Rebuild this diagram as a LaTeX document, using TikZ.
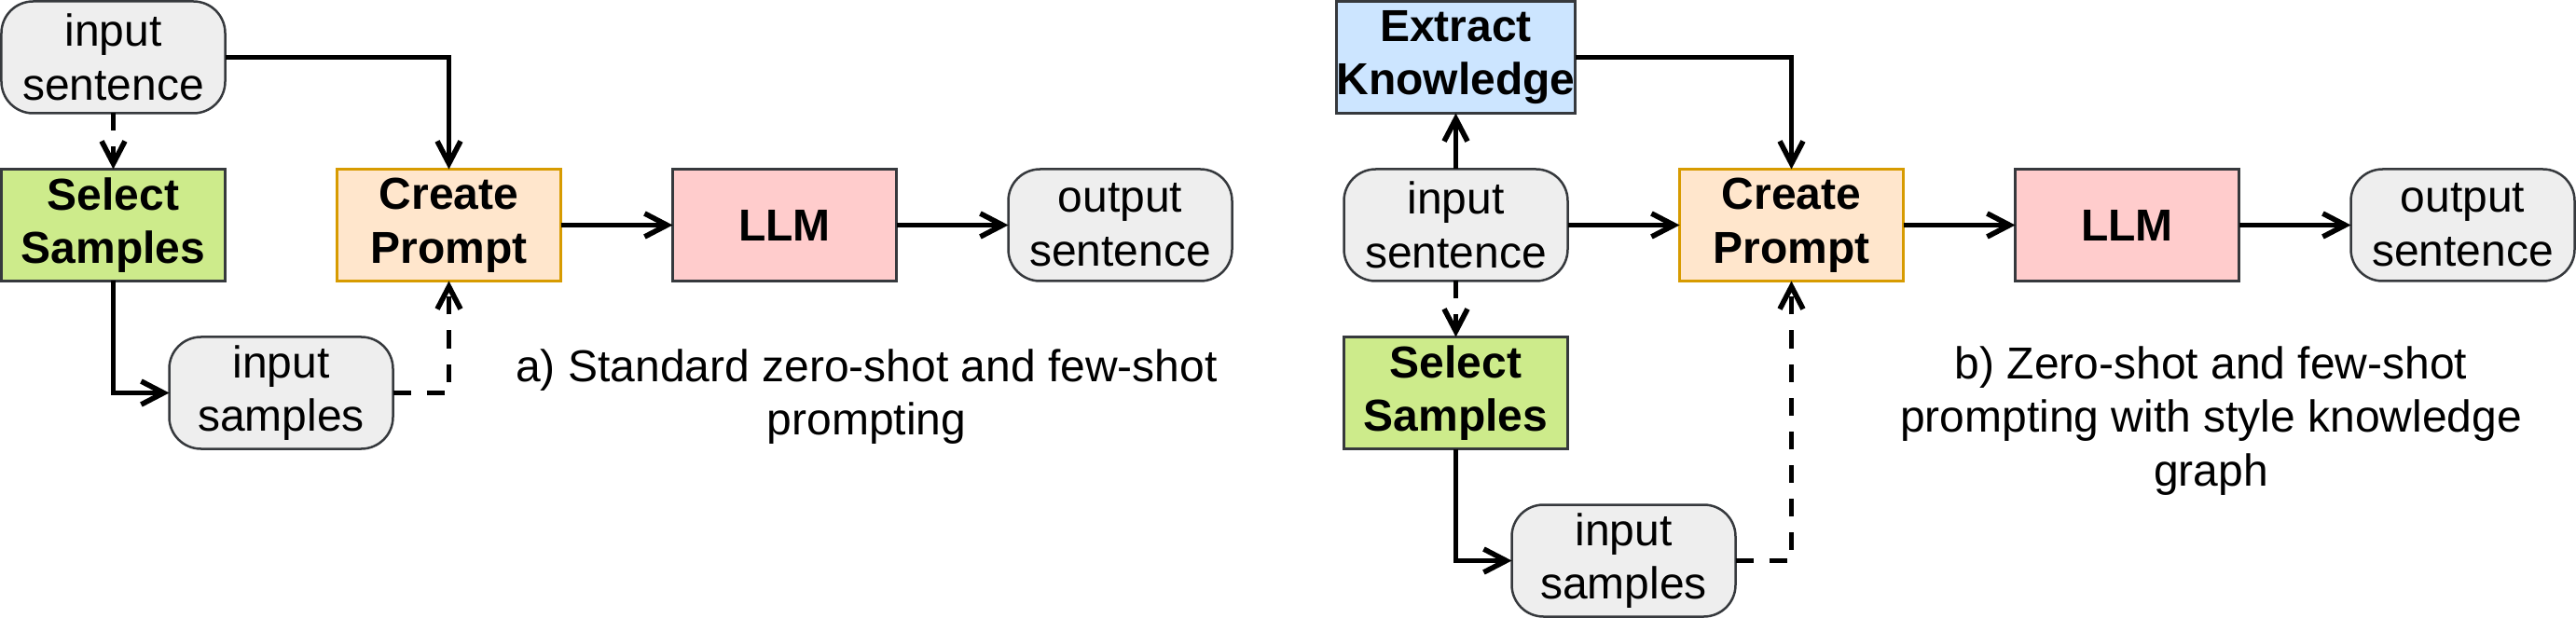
\documentclass[tikz,border=0pt]{standalone}
\usepackage{fontspec}
\setmainfont{Liberation Sans}
\usetikzlibrary{positioning,arrows.meta}

\definecolor{iofill}{HTML}{EEEEEE}
\definecolor{edgegray}{HTML}{36393D}
\definecolor{selfill}{HTML}{CDEB8B}
\definecolor{promptfill}{HTML}{FFE6CC}
\definecolor{promptdraw}{HTML}{D79B00}
\definecolor{llmfill}{HTML}{FFCCCC}
\definecolor{kgfill}{HTML}{CCE5FF}

\newcommand{\bigfont}{\fontsize{24pt}{28.8pt}\selectfont}

\begin{document}
\begin{tikzpicture}[>={Straight Barb[length=12pt,width=12.5pt]}]

  \tikzstyle{block}=[draw=edgegray, line width=1.25pt, minimum width=120pt,
                     minimum height=60pt, inner sep=0pt, outer sep=0pt,
                     align=center, font=\bigfont\bfseries]
  \tikzstyle{io}=[block, rounded corners=17pt, fill=iofill, font=\bigfont]
  \tikzstyle{link}=[line width=2.8pt]
  \tikzstyle{opt}=[link, dash pattern=on 9.5pt off 8.5pt]

  \useasboundingbox (-0.75pt,0.75pt) rectangle (1380.75pt,-330.75pt);

  % a) standard prompting
  \node[io] (insentA) at (60pt,-30pt) {input\\sentence};
  \node[block, fill=selfill, below=30pt of insentA] (selA) {Select\\Samples};
  \node[block, fill=promptfill, draw=promptdraw, right=60pt of selA] (createA) {Create\\Prompt};
  \node[block, fill=llmfill, right=60pt of createA] (llmA) {LLM};
  \node[io, right=60pt of llmA] (outA) {output\\sentence};
  \node[io, below=30pt of selA, xshift=90pt] (sampA) {input\\samples};
  \node[align=center, font=\bigfont] (capA) at (464pt,-212pt)
    {a) Standard zero-shot and few-shot\\prompting};

  % b) prompting with the style knowledge graph
  \node[block, fill=kgfill] (extB) at (780pt,-30pt) {Extract\\Knowledge};
  \node[io, below=30pt of extB] (insentB) {input\\sentence};
  \node[block, fill=promptfill, draw=promptdraw, right=60pt of insentB] (createB) {Create\\Prompt};
  \node[block, fill=llmfill, right=60pt of createB] (llmB) {LLM};
  \node[io, right=60pt of llmB] (outB) {output\\sentence};
  \node[block, fill=selfill, below=30pt of insentB] (selB) {Select\\Samples};
  \node[io, below=30pt of selB, xshift=90pt] (sampB) {input\\samples};
  \node[align=center, font=\bigfont] (capB) at (1185pt,-225pt)
    {b) Zero-shot and few-shot\\prompting with style knowledge\\graph};

  % connectors
  \draw[link,->] (insentA.east) -| (createA.north);
  \draw[opt,->] (insentA) -- (selA);
  \draw[link,->] (selA.south) |- (sampA.west);
  \draw[opt,->] (sampA.east) -| (createA.south);

  \draw[link,->] (insentB) -- (extB);
  \draw[link,->] (extB.east) -| (createB.north);
  \draw[link,->] (insentB) -- (createB);
  \draw[opt,->] (insentB) -- (selB);
  \draw[link,->] (selB.south) |- (sampB.west);
  \draw[opt,->] (sampB.east) -| (createB.south);

  \foreach \from/\to in {createA/llmA, llmA/outA, createB/llmB, llmB/outB}
    \draw[link,->] (\from) -- (\to);

\end{tikzpicture}
\end{document}
